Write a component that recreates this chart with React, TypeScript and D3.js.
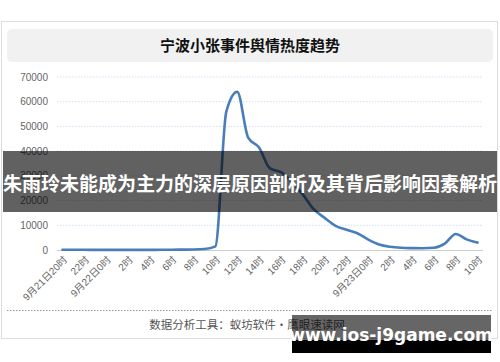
import React from "react";
import * as d3 from "d3";

const categories = [
  "9月21日20时", "21时", "22时", "23时", "9月22日0时", "1时", "2时", "3时", "4时", "5时",
  "6时", "7时", "8时", "9时", "10时", "11时", "12时", "13时", "14时", "15时",
  "16时", "17时", "18时", "19时", "20时", "21时", "22时", "23时", "9月23日0时", "1时",
  "2时", "3时", "4时", "5时", "6时", "7时", "8时", "9时", "10时",
];

const heatValues = [
  120, 90, 80, 60, 50, 40, 40, 50, 60, 80,
  100, 150, 200, 400, 1500, 56000, 64000, 45500, 41500, 33000,
  31500, 27500, 22500, 16500, 13000, 9800, 8200, 6800, 4200, 2200,
  1300, 900, 750, 700, 900, 2600, 6500, 4300, 3000,
];

const yTicks = [0, 10000, 20000, 30000, 40000, 50000, 60000, 70000];

const titleText = "宁波小张事件舆情热度趋势";
const footerText = "数据分析工具：蚁坊软件・鹰眼速读网";
const bannerText = "朱雨玲未能成为主力的深层原因剖析及其背后影响因素解析";
const watermarkText = "www.ios-j9game.com";

const FONT = "'Liberation Sans', 'Noto Sans CJK SC', sans-serif";
const CJK = "'Noto Sans CJK SC', sans-serif";

export default function App() {
  const W = 500, H = 362;
  const x = d3.scalePoint<string>().domain(categories.map((c, i) => String(i))).range([57, 483]).padding(0.5);
  const y = d3.scaleLinear().domain([0, 70000]).range([250, 77]);
  const line = d3
    .line<number>()
    .x((_, i) => x(String(i)) as number)
    .y((d) => y(d))
    .curve(d3.curveMonotoneX);

  return (
    <svg width={W} height={H} style={{ position: "absolute", left: 0, top: 0 }}>
      <rect x={0} y={0} width={W} height={H} fill="#fff" />
      {/* card */}
      <rect x={1.5} y={21.5} width={496} height={317} fill="#fff" stroke="#dcdcdc" strokeWidth={1} />
      {/* title box */}
      <rect x={7} y={29} width={486} height={33} rx={5} fill="#f1f1f1" />
      <text x={250} y={44} textAnchor="middle" dominantBaseline="central" fontFamily={CJK} fontWeight="bold" fontSize={15} fill="#111">
        {titleText}
      </text>

      {/* gridlines */}
      {yTicks.map((t) =>
        t === 0 ? null : (
          <line key={t} x1={57} x2={483} y1={y(t)} y2={y(t)} stroke="#cfe0f0" strokeWidth={1} strokeDasharray="1.5,1.5" />
        )
      )}
      <line x1={57} x2={483} y1={y(0) + 0.5} y2={y(0) + 0.5} stroke="#cccccc" strokeWidth={1} />

      {/* y labels */}
      {yTicks.map((t) => (
        <text key={t} x={48} y={y(t)} textAnchor="end" dominantBaseline="central" fontFamily={FONT} fontSize={10} fill="#666">
          {t}
        </text>
      ))}

      {/* x labels */}
      {categories.map((c, i) =>
        i % 2 === 0 ? (
          <text
            key={i}
            transform={`translate(${(x(String(i)) as number) + 3},${258}) rotate(-45)`}
            textAnchor="end"
            dominantBaseline="central"
            fontFamily={FONT}
            fontSize={10}
            fill="#666"
          >
            {c}
          </text>
        ) : null
      )}

      {/* line */}
      <path d={line(heatValues) || ""} fill="none" stroke="#4a7ebb" strokeWidth={2.6} strokeLinejoin="round" strokeLinecap="round" />

      {/* footer */}
      <line x1={7} x2={493} y1={310.5} y2={310.5} stroke="#999" strokeWidth={1} strokeDasharray="1.5,1.5" />
      <text x={247} y={324} textAnchor="middle" dominantBaseline="central" fontFamily={CJK} fontSize={11.5} fill="#555">
        {footerText}
      </text>

      {/* banner overlay */}
      <rect x={3} y={151} width={494} height={61} fill="rgba(0,0,0,0.62)" />
      <text x={250} y={182} textAnchor="middle" dominantBaseline="central" fontFamily={CJK} fontWeight="bold" fontSize={19} fill="#fff">
        {bannerText}
      </text>

      {/* watermark */}
      <rect x={292} y={315} width={199} height={25} fill="rgba(0,0,0,0.6)" />
      <rect x={292} y={340} width={199} height={13} fill="#000" />
      <text x={391} y={335} textAnchor="middle" dominantBaseline="central" fontFamily="'DejaVu Sans', sans-serif" fontWeight="bold" fontSize={17} fill="#fff">
        {watermarkText}
      </text>
    </svg>
  );
}
